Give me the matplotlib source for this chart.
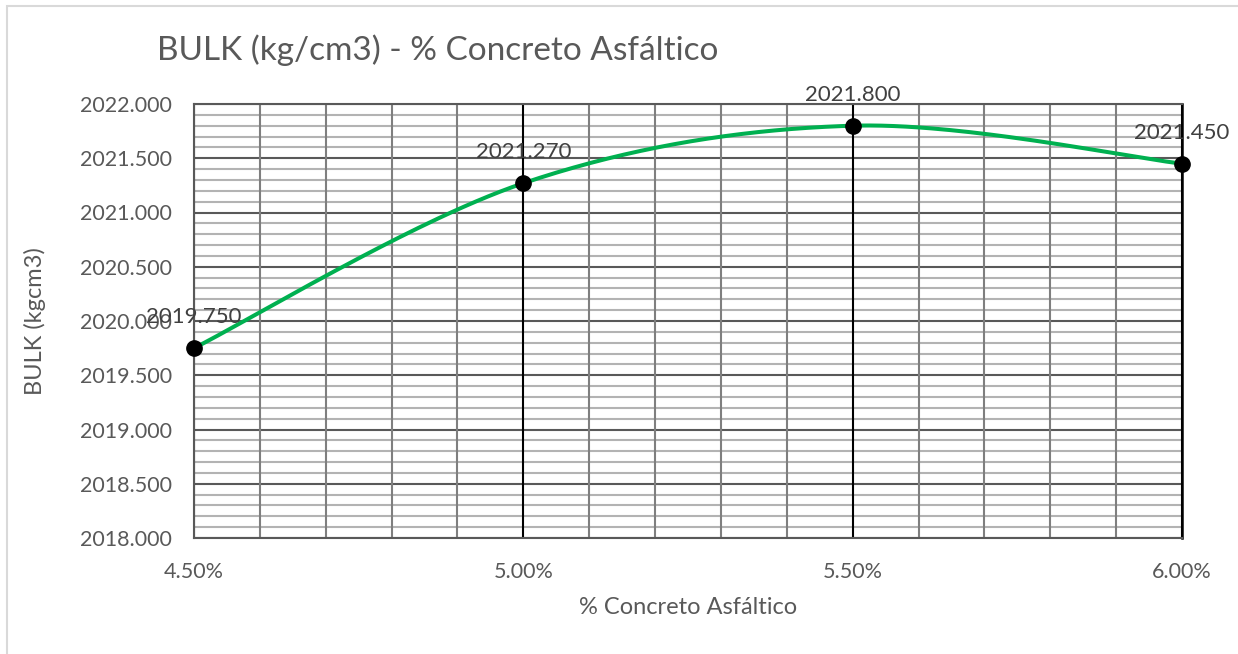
import numpy as np
import matplotlib
matplotlib.use("Agg")
import matplotlib.pyplot as plt
from matplotlib.patches import Rectangle
from matplotlib.ticker import MultipleLocator, FuncFormatter

# data
asphalt_pct = [4.5, 5.0, 5.5, 6.0]
bulk = [2019.75, 2021.27, 2021.80, 2021.45]
point_labels = ["2019.750", "2021.270", "2021.800", "2021.450"]

title = "BULK (kg/cm3) - % Concreto Asfáltico"
x_label = "% Concreto Asfáltico"
y_label = "BULK (kgcm3)"

TEXT = "#595959"
GREEN = "#00b050"


def smooth_line(xs, ys, steps=60):
    # Excel-style smoothed line: Catmull-Rom segments as cubic Bezier
    xs = np.asarray(xs, float)
    ys = np.asarray(ys, float)
    px = np.concatenate([[xs[0]], xs, [xs[-1]]])
    py = np.concatenate([[ys[0]], ys, [ys[-1]]])
    out_x, out_y = [], []
    t = np.linspace(0, 1, steps)
    for i in range(1, len(px) - 2):
        p0 = np.array([px[i], py[i]])
        p3 = np.array([px[i + 1], py[i + 1]])
        c1 = p0 + (np.array([px[i + 1], py[i + 1]]) - np.array([px[i - 1], py[i - 1]])) / 6
        c2 = p3 - (np.array([px[i + 2], py[i + 2]]) - np.array([px[i], py[i]])) / 6
        b = ((1 - t) ** 3)[:, None] * p0 + (3 * (1 - t) ** 2 * t)[:, None] * c1 \
            + (3 * (1 - t) * t ** 2)[:, None] * c2 + (t ** 3)[:, None] * p3
        out_x.extend(b[:, 0])
        out_y.extend(b[:, 1])
    return out_x, out_y


plt.rcParams["font.family"] = ["Lato", "DejaVu Sans"]

fig = plt.figure(figsize=(12.38, 6.54), dpi=100)
ax = fig.add_axes([194 / 1238, 1 - 538 / 654, (1182 - 194) / 1238, (538 - 104) / 654])

# outer chart frame (cropped on the right and bottom)
fig.patches.append(Rectangle((7 / 1238, -0.1), 2, 1.1 - 6 / 654, transform=fig.transFigure,
                             fill=False, edgecolor="#d9d9d9", linewidth=1.5))

ax.set_xlim(4.5, 6.0)
ax.set_ylim(2018.0, 2022.0)
ax.xaxis.set_major_locator(MultipleLocator(0.5))
ax.xaxis.set_minor_locator(MultipleLocator(0.1))
ax.yaxis.set_major_locator(MultipleLocator(0.5))
ax.yaxis.set_minor_locator(MultipleLocator(0.1))
ax.xaxis.set_major_formatter(FuncFormatter(lambda v, p: f"{v:.2f}%"))
ax.yaxis.set_major_formatter(FuncFormatter(lambda v, p: f"{v:.3f}"))

ax.grid(which="minor", axis="y", color="#b3b3b3", linewidth=1.5)
ax.grid(which="major", axis="y", color="#595959", linewidth=1.5)
ax.grid(which="minor", axis="x", color="#7f7f7f", linewidth=1.5)
ax.grid(which="major", axis="x", color="black", linewidth=1.5)
ax.set_axisbelow(True)
ax.xaxis.set_zorder(0.6)  # vertical lines over the horizontal ones

for side in ["left", "bottom", "top"]:
    ax.spines[side].set_color("#595959")
    ax.spines[side].set_linewidth(1.5)
ax.spines["right"].set_color("black")
ax.spines["right"].set_linewidth(1.8)

ax.tick_params(which="both", length=0, colors=TEXT, labelsize=15.5)
ax.tick_params(axis="x", pad=17)
ax.tick_params(axis="y", pad=16)

sx, sy = smooth_line(asphalt_pct, bulk)
ax.plot(sx, sy, color=GREEN, linewidth=2.9, clip_on=False, zorder=3)
ax.plot(asphalt_pct, bulk, "o", color="black", markersize=11, clip_on=False, zorder=4)

for x, y, lab in zip(asphalt_pct, bulk, point_labels):
    ax.annotate(lab, (x, y), xytext=(0, 15), textcoords="offset points",
                ha="center", va="bottom", fontsize=16, color="#404040", zorder=5)

ax.set_xlabel(x_label, fontsize=17, color=TEXT)
ax.set_ylabel(y_label, fontsize=17, color=TEXT)
ax.xaxis.set_label_coords(0.5, -(608 - 538) / 434)
ax.yaxis.set_label_coords((35 - 194) / 988, 0.5)
ax.xaxis.label.set_va("center")
ax.yaxis.label.set_va("center")
fig.text(157 / 1238, 1 - 50 / 654, title, fontsize=24, color=TEXT, ha="left", va="center")

fig.savefig("out.png", dpi=100)
